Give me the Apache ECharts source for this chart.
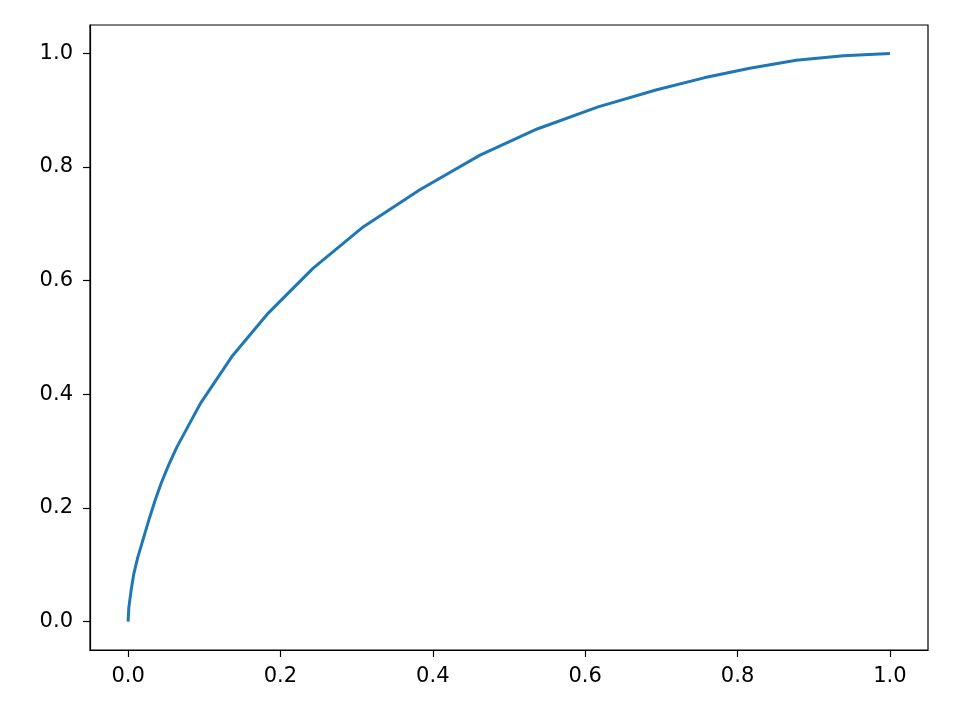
<!DOCTYPE html>
<html><head><meta charset="utf-8">
<script src="https://cdn.jsdelivr.net/npm/echarts@6/dist/echarts.min.js"></script>
<style>html,body{margin:0;padding:0;background:#fff}#c{width:965px;height:711px}</style>
</head><body><div id="c"></div>
<script>
const xValues = [0.0, 0.001, 0.004, 0.0075, 0.0127, 0.0193, 0.028, 0.0354, 0.0433, 0.053, 0.064, 0.095, 0.136, 0.184, 0.243, 0.309, 0.383, 0.462, 0.537, 0.617, 0.694, 0.756, 0.816, 0.877, 0.939, 1.0];
const yValues = [0.0, 0.025, 0.055, 0.084, 0.113, 0.143, 0.182, 0.213, 0.243, 0.275, 0.307, 0.384, 0.466, 0.543, 0.622, 0.695, 0.760, 0.821, 0.867, 0.906, 0.936, 0.957, 0.974, 0.988, 0.996, 1.0];
const xTicks = [0.0, 0.2, 0.4, 0.6, 0.8, 1.0];
const yTicks = [0.0, 0.2, 0.4, 0.6, 0.8, 1.0];

const data = xValues.map((x, i) => [x, yValues[i]]);
const font = 'DejaVu Sans';
const chart = echarts.init(document.getElementById('c'), null, {renderer: 'canvas'});
function axis(ticks, pos, margin) {
  return {
    type: 'value', position: pos, min: -0.05, max: 1.05,
    splitLine: {show: false},
    axisLine: {show: true, onZero: false, lineStyle: {color: '#000', width: 1.2}},
    axisTick: {show: true, inside: false, length: 7, lineStyle: {color: '#000', width: 1.2}, customValues: ticks},
    axisLabel: {show: true, margin: margin, color: '#000', fontFamily: font, fontSize: 21,
      customValues: ticks, formatter: v => Number(v).toFixed(1)}
  };
}
chart.setOption({
  animation: false,
  backgroundColor: '#fff',
  grid: {left: 90, right: 37, top: 25, bottom: 61, show: true, borderColor: '#000', borderWidth: 1.2, backgroundColor: 'transparent'},
  xAxis: axis(xTicks, 'bottom', 16),
  yAxis: axis(yTicks, 'left', 17),
  series: [{
    type: 'line', data: data, showSymbol: false, smooth: false,
    lineStyle: {color: '#1f77b4', width: 3}, itemStyle: {color: '#1f77b4'}
  }]
});
</script></body></html>
